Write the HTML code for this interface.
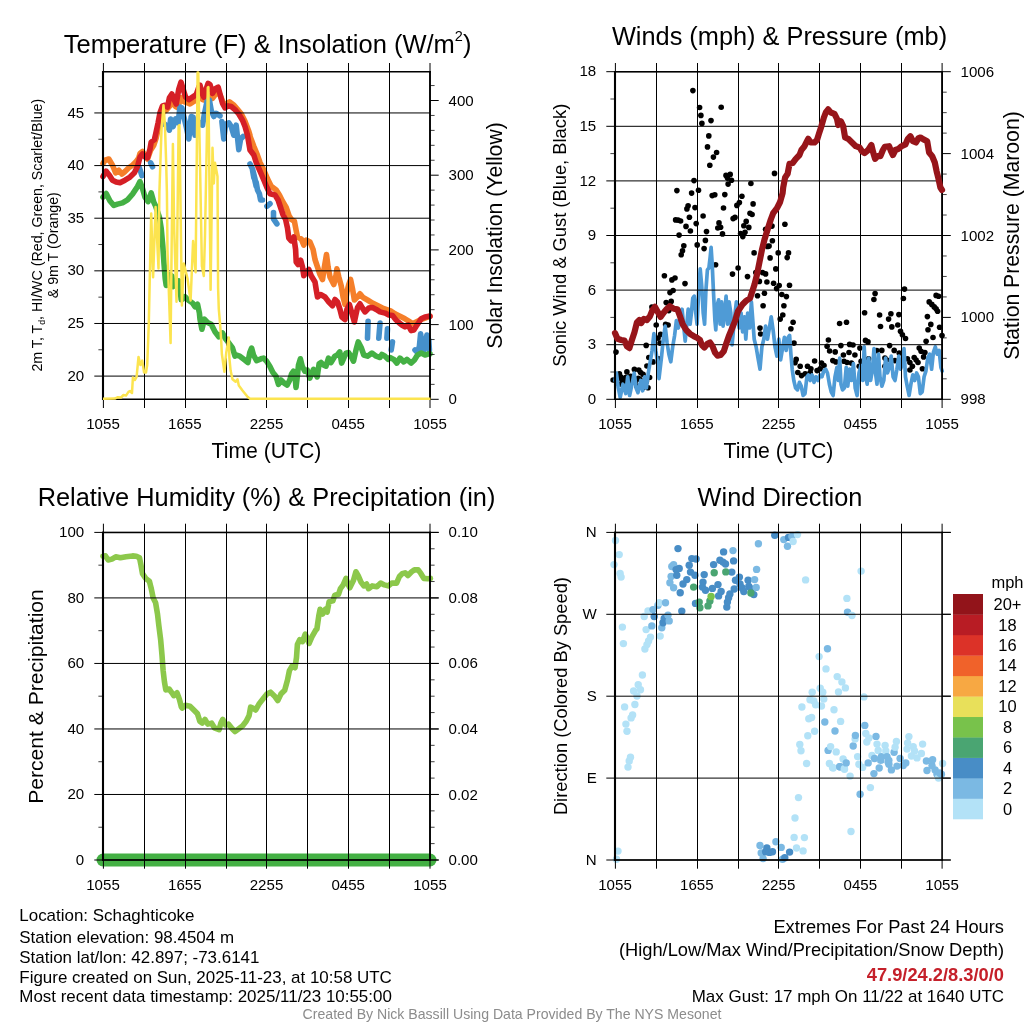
<!DOCTYPE html>
<html><head><meta charset="utf-8"><title>Meteogram</title>
<style>html,body{margin:0;padding:0;background:#fff;overflow:hidden;}svg{display:block;will-change:transform;}text{font-family:"Liberation Sans",sans-serif;}</style></head><body>
<svg width="1024" height="1024" viewBox="0 0 1024 1024" style='font-family:"Liberation Sans",sans-serif;'>
<rect width="1024" height="1024" fill="#fff"/>
<polyline points="103.0,163.4 105.0,160.2 108.8,159.0 112.5,165.2 115.6,172.8 118.8,170.2 121.9,174.0 125.0,171.5 128.8,167.8 132.5,165.2 136.2,161.5 138.8,157.8 140.0,153.4 142.5,151.5 145.6,156.5 147.5,159.0 150.6,150.2 153.8,145.2 156.2,137.8 158.1,129.0 160.6,119.0 163.1,112.1 166.2,110.2 169.4,106.5 172.5,102.8 175.6,106.5 178.1,107.8 180.0,99.0 181.2,97.8 183.8,101.5 187.5,102.8 190.0,104.0 193.8,101.5 197.5,98.4 200.0,95.2 202.5,99.6 205.0,100.2 208.8,95.2 212.5,98.4 216.2,93.4 218.8,92.8 221.2,97.8 223.1,102.8 225.0,104.6 229.4,101.9 233.8,105.0 237.5,109.4 241.2,113.8 245.0,121.2 248.8,131.2 250.0,135.2 250.0,136.2 253.8,146.2 256.9,153.8 260.0,162.5 263.8,170.0 267.5,178.8 271.2,186.2 276.2,190.0 279.4,195.0 282.5,201.2 286.2,207.5 288.8,215.0 291.2,219.4 294.4,221.2 296.2,230.8 297.5,237.0 301.2,238.9 303.8,245.1 306.2,240.1 310.0,242.0 313.1,249.5 315.0,259.5 317.5,267.0 320.0,274.5 322.5,279.5 324.4,267.0 326.5,254.5 328.1,267.0 330.0,277.0 333.8,284.5 336.2,274.5 336.9,268.9 338.8,277.0 341.2,285.8 343.1,297.0 345.0,304.5 346.9,292.0 348.8,284.5 350.6,279.5 352.5,288.8 354.4,300.0 356.9,297.5 360.0,293.8 363.1,297.5 367.5,300.0 372.5,303.1 377.5,305.6 382.5,308.1 386.2,309.4 391.2,311.2 395.0,313.8 400.0,316.2 405.0,318.8 410.0,321.9 412.5,323.8 416.2,321.9 420.0,320.0 425.0,318.1 430.0,316.2" fill="none" stroke="#f57f2a" stroke-width="5.6" stroke-linejoin="round" stroke-linecap="round"/>
<polyline points="139.4,167.8 140.6,171.5 141.9,175.6" fill="none" stroke="#4590cb" stroke-width="5.6" stroke-linejoin="round" stroke-linecap="round"/>
<polyline points="150.6,162.8 152.5,166.8" fill="none" stroke="#4590cb" stroke-width="5.6" stroke-linejoin="round" stroke-linecap="round"/>
<polyline points="162.8,122.8 164.4,124.0 167.5,126.5 169.4,130.2 170.6,119.0 173.1,126.5 175.6,119.0 178.1,122.8 180.0,107.1 181.9,107.8 183.8,116.5 186.2,126.5 188.8,139.0 191.2,116.5 193.1,117.1 195.0,135.2 196.9,120.2 200.0,124.0 202.5,125.2 204.4,114.0 207.5,99.0 209.4,100.2 211.2,110.2 213.8,116.5 216.2,113.4 220.0,115.9" fill="none" stroke="#4590cb" stroke-width="5.6" stroke-linejoin="round" stroke-linecap="round"/>
<polyline points="221.9,121.5 223.8,139.0 225.6,124.0 228.8,122.8 231.2,126.5 233.8,135.2 236.2,125.2 238.8,149.6 240.6,139.0 243.1,136.5" fill="none" stroke="#4590cb" stroke-width="5.6" stroke-linejoin="round" stroke-linecap="round"/>
<polyline points="250.0,164.0 252.5,169.0 255.0,179.0 256.2,186.5 252.5,170.0 253.8,177.5 256.2,182.5 257.5,190.0 259.4,193.8 260.6,200.0 262.5,200.0" fill="none" stroke="#4590cb" stroke-width="5.6" stroke-linejoin="round" stroke-linecap="round"/>
<polyline points="266.9,206.2 270.0,203.8" fill="none" stroke="#4590cb" stroke-width="5.6" stroke-linejoin="round" stroke-linecap="round"/>
<polyline points="273.5,212.6 273.5,218.9 276.9,223.9" fill="none" stroke="#4590cb" stroke-width="5.6" stroke-linejoin="round" stroke-linecap="round"/>
<polyline points="368.1,321.2 367.5,338.1" fill="none" stroke="#4590cb" stroke-width="5.6" stroke-linejoin="round" stroke-linecap="round"/>
<polyline points="380.0,323.1 378.8,338.1" fill="none" stroke="#4590cb" stroke-width="5.6" stroke-linejoin="round" stroke-linecap="round"/>
<polyline points="387.5,328.8 386.9,338.1" fill="none" stroke="#4590cb" stroke-width="5.6" stroke-linejoin="round" stroke-linecap="round"/>
<polyline points="392.5,341.9 391.2,350.0" fill="none" stroke="#4590cb" stroke-width="5.6" stroke-linejoin="round" stroke-linecap="round"/>
<polyline points="415.0,350.0 417.5,352.5 419.4,346.2 420.6,333.8 423.1,352.5 425.0,346.2 426.9,335.0 428.8,340.0 429.4,350.0" fill="none" stroke="#4590cb" stroke-width="5.6" stroke-linejoin="round" stroke-linecap="round"/>
<polyline points="103.0,197.2 106.2,193.5 110.0,201.0 113.8,205.4 117.5,204.1 122.5,202.9 127.5,199.8 132.5,194.1 137.5,186.6 140.0,181.6 142.5,188.5 145.0,197.2 148.1,201.6 151.2,192.9 153.8,202.2 155.6,206.0 159.4,217.2 161.2,228.5 162.8,246.0 164.0,263.5 165.2,278.5 166.2,285.4 168.1,283.5 170.0,274.8 171.9,276.0 173.1,286.6 176.2,283.5 178.8,281.0 180.0,288.5 181.2,299.8 182.5,299.2 185.0,296.8 188.8,300.5 192.5,303.0 195.0,306.8 197.5,304.2 199.4,313.0 200.0,319.2 201.9,329.2 204.4,319.2 207.5,322.4 211.2,324.2 215.0,331.8 218.8,336.8 222.5,333.0 225.0,338.0 228.8,343.0 232.5,348.0 235.0,356.1 236.0,355.0 239.8,356.2 244.8,360.0 247.9,362.5 249.8,352.5 251.6,348.1 253.5,355.0 256.6,360.6 261.0,358.8 263.5,358.1 266.6,361.2 269.8,366.2 272.9,372.5 276.0,376.2 278.5,384.4 281.0,380.0 284.1,383.1 287.2,385.0 289.8,380.0 291.6,373.8 293.5,371.2 295.4,380.0 296.0,387.5 297.2,377.5 298.5,365.0 300.4,358.8 302.2,366.2 304.8,371.2 307.2,370.0 309.8,378.1 311.6,373.8 313.5,369.4 317.2,376.9 319.1,363.8 321.0,362.5 323.5,365.0 326.0,366.2 328.5,358.1 331.0,362.5 334.8,356.2 337.2,355.0 339.8,351.9 341.6,363.1 343.5,358.8 346.0,353.1 348.5,352.5 351.0,356.2 353.5,361.2 356.0,350.0 358.2,341.9 361.2,347.5 363.8,355.0 367.5,356.2 371.9,353.1 376.2,356.2 380.0,357.5 381.9,354.4 385.0,356.2 388.1,359.4 390.0,357.5 393.8,359.4 396.9,363.1 400.0,358.1 403.8,361.9 406.9,359.4 411.2,363.1 414.4,360.0 417.5,355.0 421.2,353.1 425.0,355.0 428.8,353.8 430.0,353.8" fill="none" stroke="#44b044" stroke-width="5.6" stroke-linejoin="round" stroke-linecap="round"/>
<polyline points="103.0,176.5 106.2,171.2 109.4,175.2 112.5,180.2 116.2,182.1 120.0,182.8 125.0,180.2 130.0,177.1 134.4,172.8 137.5,166.5 140.0,157.1 142.5,154.0 145.0,157.1 147.5,157.8 150.0,149.0 151.2,142.1 154.4,139.6 156.2,131.5 158.1,122.8 160.0,112.8 162.5,105.9 165.0,105.2 167.5,107.1 169.4,97.8 171.9,94.0 174.4,100.2 176.2,104.0 178.8,89.0 181.0,82.1 183.1,89.0 185.6,97.1 188.8,99.6 192.5,97.1 196.2,94.6 198.8,87.1 200.0,85.2 201.9,92.8 203.8,97.1 206.2,89.0 208.1,83.4 210.0,84.6 212.5,93.4 215.0,89.0 218.1,87.1 220.0,94.0 222.5,103.4 225.0,107.8 228.1,105.9 231.2,106.5 235.0,109.6 238.8,114.0 242.5,120.2 245.0,126.5 247.5,135.2 250.0,150.0 253.8,155.0 256.2,162.5 260.0,171.2 263.8,180.0 266.9,187.5 270.0,193.8 275.0,195.0 278.1,200.0 280.6,207.5 283.1,215.0 285.6,219.5 287.5,228.2 288.8,238.2 291.2,240.8 293.8,237.0 295.6,249.5 296.2,262.0 298.1,264.5 300.6,260.1 302.5,267.0 303.8,275.8 306.2,272.0 308.8,269.5 311.2,275.8 315.0,282.0 316.2,289.5 317.5,297.0 320.6,294.5 325.0,297.0 328.8,302.0 332.5,305.8 335.0,299.5 337.5,302.0 340.0,309.5 341.9,317.0 345.0,319.5 346.9,309.5 349.4,304.5 351.9,313.2 354.4,322.0 355.6,316.2 357.5,307.5 360.0,303.8 362.5,308.1 365.0,311.9 368.8,308.1 372.5,307.5 376.2,309.4 380.0,311.9 385.0,313.1 388.8,315.0 392.5,315.6 395.6,319.4 398.8,322.5 401.9,325.0 405.0,326.9 408.1,325.0 411.2,330.6 413.8,330.0 416.2,326.2 418.8,322.5 421.2,318.8 425.0,316.9 428.8,316.2 430.0,316.2" fill="none" stroke="#d51f26" stroke-width="5.6" stroke-linejoin="round" stroke-linecap="round"/>
<line x1="103.40" y1="63.00" x2="103.40" y2="408.00" stroke="#000" stroke-width="1.0" stroke-linecap="butt"/>
<line x1="144.50" y1="63.00" x2="144.50" y2="408.00" stroke="#000" stroke-width="1.0" stroke-linecap="butt"/>
<line x1="185.50" y1="63.00" x2="185.50" y2="408.00" stroke="#000" stroke-width="1.0" stroke-linecap="butt"/>
<line x1="226.50" y1="63.00" x2="226.50" y2="408.00" stroke="#000" stroke-width="1.0" stroke-linecap="butt"/>
<line x1="266.50" y1="63.00" x2="266.50" y2="408.00" stroke="#000" stroke-width="1.0" stroke-linecap="butt"/>
<line x1="307.50" y1="63.00" x2="307.50" y2="408.00" stroke="#000" stroke-width="1.0" stroke-linecap="butt"/>
<line x1="348.50" y1="63.00" x2="348.50" y2="408.00" stroke="#000" stroke-width="1.0" stroke-linecap="butt"/>
<line x1="389.50" y1="63.00" x2="389.50" y2="408.00" stroke="#000" stroke-width="1.0" stroke-linecap="butt"/>
<line x1="430.00" y1="63.00" x2="430.00" y2="408.00" stroke="#000" stroke-width="1.0" stroke-linecap="butt"/>
<text transform="translate(103.0 429.2) scale(1.04 1)" font-size="14.5" text-anchor="middle" fill="#000" font-weight="normal">1055</text>
<text transform="translate(184.8 429.2) scale(1.04 1)" font-size="14.5" text-anchor="middle" fill="#000" font-weight="normal">1655</text>
<text transform="translate(266.5 429.2) scale(1.04 1)" font-size="14.5" text-anchor="middle" fill="#000" font-weight="normal">2255</text>
<text transform="translate(348.2 429.2) scale(1.04 1)" font-size="14.5" text-anchor="middle" fill="#000" font-weight="normal">0455</text>
<text transform="translate(430.0 429.2) scale(1.04 1)" font-size="14.5" text-anchor="middle" fill="#000" font-weight="normal">1055</text>
<line x1="98.40" y1="349.78" x2="103.00" y2="349.78" stroke="#000" stroke-width="0.75" stroke-linecap="butt"/>
<line x1="98.40" y1="297.15" x2="103.00" y2="297.15" stroke="#000" stroke-width="0.75" stroke-linecap="butt"/>
<line x1="98.40" y1="244.53" x2="103.00" y2="244.53" stroke="#000" stroke-width="0.75" stroke-linecap="butt"/>
<line x1="98.40" y1="191.90" x2="103.00" y2="191.90" stroke="#000" stroke-width="0.75" stroke-linecap="butt"/>
<line x1="98.40" y1="139.26" x2="103.00" y2="139.26" stroke="#000" stroke-width="0.75" stroke-linecap="butt"/>
<line x1="98.40" y1="86.63" x2="103.00" y2="86.63" stroke="#000" stroke-width="0.75" stroke-linecap="butt"/>
<line x1="94.30" y1="376.10" x2="430.00" y2="376.10" stroke="#000" stroke-width="1.0" stroke-linecap="butt"/>
<text transform="translate(84.2 380.7) scale(1.04 1)" font-size="14.5" text-anchor="end" fill="#000" font-weight="normal">20</text>
<line x1="94.30" y1="323.47" x2="430.00" y2="323.47" stroke="#000" stroke-width="1.0" stroke-linecap="butt"/>
<text transform="translate(84.2 328.1) scale(1.04 1)" font-size="14.5" text-anchor="end" fill="#000" font-weight="normal">25</text>
<line x1="94.30" y1="270.84" x2="430.00" y2="270.84" stroke="#000" stroke-width="1.0" stroke-linecap="butt"/>
<text transform="translate(84.2 275.4) scale(1.04 1)" font-size="14.5" text-anchor="end" fill="#000" font-weight="normal">30</text>
<line x1="94.30" y1="218.21" x2="430.00" y2="218.21" stroke="#000" stroke-width="1.0" stroke-linecap="butt"/>
<text transform="translate(84.2 222.8) scale(1.04 1)" font-size="14.5" text-anchor="end" fill="#000" font-weight="normal">35</text>
<line x1="94.30" y1="165.58" x2="430.00" y2="165.58" stroke="#000" stroke-width="1.0" stroke-linecap="butt"/>
<text transform="translate(84.2 170.2) scale(1.04 1)" font-size="14.5" text-anchor="end" fill="#000" font-weight="normal">40</text>
<line x1="94.30" y1="112.95" x2="430.00" y2="112.95" stroke="#000" stroke-width="1.0" stroke-linecap="butt"/>
<text transform="translate(84.2 117.5) scale(1.04 1)" font-size="14.5" text-anchor="end" fill="#000" font-weight="normal">45</text>
<line x1="430.00" y1="384.36" x2="434.60" y2="384.36" stroke="#000" stroke-width="0.75" stroke-linecap="butt"/>
<line x1="430.00" y1="369.42" x2="434.60" y2="369.42" stroke="#000" stroke-width="0.75" stroke-linecap="butt"/>
<line x1="430.00" y1="354.48" x2="434.60" y2="354.48" stroke="#000" stroke-width="0.75" stroke-linecap="butt"/>
<line x1="430.00" y1="339.54" x2="434.60" y2="339.54" stroke="#000" stroke-width="0.75" stroke-linecap="butt"/>
<line x1="430.00" y1="309.66" x2="434.60" y2="309.66" stroke="#000" stroke-width="0.75" stroke-linecap="butt"/>
<line x1="430.00" y1="294.72" x2="434.60" y2="294.72" stroke="#000" stroke-width="0.75" stroke-linecap="butt"/>
<line x1="430.00" y1="279.78" x2="434.60" y2="279.78" stroke="#000" stroke-width="0.75" stroke-linecap="butt"/>
<line x1="430.00" y1="264.84" x2="434.60" y2="264.84" stroke="#000" stroke-width="0.75" stroke-linecap="butt"/>
<line x1="430.00" y1="234.96" x2="434.60" y2="234.96" stroke="#000" stroke-width="0.75" stroke-linecap="butt"/>
<line x1="430.00" y1="220.02" x2="434.60" y2="220.02" stroke="#000" stroke-width="0.75" stroke-linecap="butt"/>
<line x1="430.00" y1="205.08" x2="434.60" y2="205.08" stroke="#000" stroke-width="0.75" stroke-linecap="butt"/>
<line x1="430.00" y1="190.14" x2="434.60" y2="190.14" stroke="#000" stroke-width="0.75" stroke-linecap="butt"/>
<line x1="430.00" y1="160.26" x2="434.60" y2="160.26" stroke="#000" stroke-width="0.75" stroke-linecap="butt"/>
<line x1="430.00" y1="145.32" x2="434.60" y2="145.32" stroke="#000" stroke-width="0.75" stroke-linecap="butt"/>
<line x1="430.00" y1="130.38" x2="434.60" y2="130.38" stroke="#000" stroke-width="0.75" stroke-linecap="butt"/>
<line x1="430.00" y1="115.44" x2="434.60" y2="115.44" stroke="#000" stroke-width="0.75" stroke-linecap="butt"/>
<line x1="430.00" y1="85.56" x2="434.60" y2="85.56" stroke="#000" stroke-width="0.75" stroke-linecap="butt"/>
<line x1="430.00" y1="399.30" x2="438.70" y2="399.30" stroke="#000" stroke-width="1.0" stroke-linecap="butt"/>
<text transform="translate(448.5 404.3) scale(1.04 1)" font-size="14.5" text-anchor="start" fill="#000" font-weight="normal">0</text>
<line x1="430.00" y1="324.60" x2="438.70" y2="324.60" stroke="#000" stroke-width="1.0" stroke-linecap="butt"/>
<text transform="translate(448.5 329.6) scale(1.04 1)" font-size="14.5" text-anchor="start" fill="#000" font-weight="normal">100</text>
<line x1="430.00" y1="249.90" x2="438.70" y2="249.90" stroke="#000" stroke-width="1.0" stroke-linecap="butt"/>
<text transform="translate(448.5 254.9) scale(1.04 1)" font-size="14.5" text-anchor="start" fill="#000" font-weight="normal">200</text>
<line x1="430.00" y1="175.20" x2="438.70" y2="175.20" stroke="#000" stroke-width="1.0" stroke-linecap="butt"/>
<text transform="translate(448.5 180.2) scale(1.04 1)" font-size="14.5" text-anchor="start" fill="#000" font-weight="normal">300</text>
<line x1="430.00" y1="100.50" x2="438.70" y2="100.50" stroke="#000" stroke-width="1.0" stroke-linecap="butt"/>
<text transform="translate(448.5 105.5) scale(1.04 1)" font-size="14.5" text-anchor="start" fill="#000" font-weight="normal">400</text>
<line x1="103.00" y1="70.95" x2="103.00" y2="400.00" stroke="#000" stroke-width="2.1" stroke-linecap="butt"/>
<line x1="102.00" y1="71.70" x2="430.90" y2="71.70" stroke="#000" stroke-width="1.5" stroke-linecap="butt"/>
<line x1="430.00" y1="70.95" x2="430.00" y2="400.00" stroke="#000" stroke-width="1.8" stroke-linecap="butt"/>
<line x1="102.00" y1="399.30" x2="430.90" y2="399.30" stroke="#000" stroke-width="1.4" stroke-linecap="butt"/>
<polyline points="103.0,398.7 114.8,398.6 117.9,397.2 121.0,397.5 123.5,395.0 126.0,395.6 128.5,391.9 130.0,391.0 132.0,393.0 132.9,377.5 134.8,380.0 136.6,376.9 138.5,356.9 140.4,365.0 142.2,360.6 144.1,372.5 146.0,372.5 147.2,365.0 148.2,340.0 148.8,323.0 151.2,213.5 153.1,277.2 155.6,207.0 158.5,268.5 159.4,192.0 161.5,130.0 163.5,105.2 165.0,126.5 166.2,164.0 166.9,192.0 167.5,251.0 168.8,290.0 170.6,343.0 171.6,250.0 172.9,144.0 174.2,230.0 176.5,301.8 178.6,126.0 179.4,125.2 181.9,305.5 183.8,263.5 187.5,278.5 190.6,300.5 193.1,241.0 195.6,272.2 197.6,72.5 198.3,72.5 201.9,266.0 203.8,276.0 205.0,236.0 207.8,87.5 208.4,87.1 210.6,289.8 212.5,147.8 213.8,183.5 215.0,162.8 217.5,176.5 218.1,288.0 218.8,309.2 220.0,323.0 221.2,340.5 221.9,354.2 224.4,371.8 226.2,353.0 228.8,337.4 229.4,358.0 230.6,370.5 232.5,379.2 235.6,381.8 237.5,379.2 238.8,385.5 242.5,390.5 247.5,396.8 250.0,398.7 430.5,398.7" fill="none" stroke="#fce44f" stroke-width="2.5" stroke-linejoin="round" stroke-linecap="butt"/>
<text x="267.6" y="53" font-size="25.5" text-anchor="middle" fill="#000" font-weight="normal">Temperature (F) &amp; Insolation (W/m<tspan dy="-12" font-size="14.5">2</tspan><tspan dy="12">)</tspan></text>
<text x="266.5" y="457.5" font-size="21.2" text-anchor="middle" fill="#000" font-weight="normal">Time (UTC)</text>
<text transform="translate(501.7 235.5) rotate(-90)" font-size="21.2" text-anchor="middle" fill="#000" font-weight="normal">Solar Insolation (Yellow)</text>
<text transform="translate(42 235.2) rotate(-90) scale(0.9615 1)" font-size="14.8" text-anchor="middle" fill="#000" font-weight="normal">2m T, T<tspan dy="3" font-size="9">d</tspan><tspan dy="-3">, HI/WC (Red, Green, Scarlet/Blue)</tspan></text>
<text transform="translate(57.5 245.2) rotate(-90) scale(0.9615 1)" font-size="14.8" text-anchor="middle" fill="#000" font-weight="normal">&amp; 9m T (Orange)</text>
<g fill="#000">
<circle cx="668.8" cy="310.6" r="2.8"/>
<circle cx="656.2" cy="325.0" r="2.8"/>
<circle cx="665.6" cy="324.4" r="2.8"/>
<circle cx="668.1" cy="325.0" r="2.8"/>
<circle cx="658.1" cy="338.1" r="2.8"/>
<circle cx="660.6" cy="334.4" r="2.8"/>
<circle cx="646.2" cy="345.4" r="2.8"/>
<circle cx="660.0" cy="343.1" r="2.8"/>
<circle cx="616.0" cy="352.1" r="2.8"/>
<circle cx="648.8" cy="357.5" r="2.8"/>
<circle cx="658.8" cy="358.8" r="2.8"/>
<circle cx="646.9" cy="366.0" r="2.8"/>
<circle cx="653.1" cy="361.9" r="2.8"/>
<circle cx="626.9" cy="371.9" r="2.8"/>
<circle cx="634.4" cy="369.4" r="2.8"/>
<circle cx="638.8" cy="370.0" r="2.8"/>
<circle cx="640.6" cy="372.5" r="2.8"/>
<circle cx="643.1" cy="374.4" r="2.8"/>
<circle cx="619.4" cy="373.8" r="2.8"/>
<circle cx="620.6" cy="376.9" r="2.8"/>
<circle cx="622.5" cy="380.6" r="2.8"/>
<circle cx="630.6" cy="376.2" r="2.8"/>
<circle cx="613.1" cy="380.0" r="2.8"/>
<circle cx="692.9" cy="90.6" r="2.8"/>
<circle cx="699.6" cy="107.5" r="2.8"/>
<circle cx="721.2" cy="107.2" r="2.8"/>
<circle cx="700.9" cy="115.4" r="2.8"/>
<circle cx="711.0" cy="120.6" r="2.8"/>
<circle cx="701.9" cy="123.4" r="2.8"/>
<circle cx="708.8" cy="135.9" r="2.8"/>
<circle cx="707.5" cy="146.9" r="2.8"/>
<circle cx="716.6" cy="152.5" r="2.8"/>
<circle cx="713.4" cy="157.1" r="2.8"/>
<circle cx="709.8" cy="165.2" r="2.8"/>
<circle cx="726.0" cy="175.4" r="2.8"/>
<circle cx="730.2" cy="174.4" r="2.8"/>
<circle cx="727.5" cy="178.1" r="2.8"/>
<circle cx="731.5" cy="180.2" r="2.8"/>
<circle cx="728.1" cy="184.1" r="2.8"/>
<circle cx="694.0" cy="180.6" r="2.8"/>
<circle cx="750.9" cy="183.5" r="2.8"/>
<circle cx="676.9" cy="190.6" r="2.8"/>
<circle cx="691.6" cy="193.1" r="2.8"/>
<circle cx="698.5" cy="190.2" r="2.8"/>
<circle cx="712.2" cy="195.6" r="2.8"/>
<circle cx="714.8" cy="194.8" r="2.8"/>
<circle cx="724.8" cy="194.6" r="2.8"/>
<circle cx="741.9" cy="196.2" r="2.8"/>
<circle cx="688.1" cy="205.8" r="2.8"/>
<circle cx="686.9" cy="208.9" r="2.8"/>
<circle cx="695.0" cy="207.6" r="2.8"/>
<circle cx="723.5" cy="208.0" r="2.8"/>
<circle cx="739.4" cy="202.6" r="2.8"/>
<circle cx="736.9" cy="205.4" r="2.8"/>
<circle cx="753.1" cy="203.9" r="2.8"/>
<circle cx="703.1" cy="216.0" r="2.8"/>
<circle cx="689.4" cy="217.2" r="2.8"/>
<circle cx="735.0" cy="217.4" r="2.8"/>
<circle cx="733.1" cy="218.6" r="2.8"/>
<circle cx="750.0" cy="213.2" r="2.8"/>
<circle cx="752.1" cy="214.5" r="2.8"/>
<circle cx="675.6" cy="219.9" r="2.8"/>
<circle cx="678.1" cy="220.1" r="2.8"/>
<circle cx="680.6" cy="221.0" r="2.8"/>
<circle cx="696.2" cy="223.6" r="2.8"/>
<circle cx="719.0" cy="222.9" r="2.8"/>
<circle cx="717.8" cy="228.0" r="2.8"/>
<circle cx="720.6" cy="227.2" r="2.8"/>
<circle cx="746.2" cy="221.4" r="2.8"/>
<circle cx="743.8" cy="225.8" r="2.8"/>
<circle cx="748.8" cy="227.4" r="2.8"/>
<circle cx="686.0" cy="226.4" r="2.8"/>
<circle cx="690.4" cy="231.0" r="2.8"/>
<circle cx="706.5" cy="231.6" r="2.8"/>
<circle cx="722.5" cy="233.9" r="2.8"/>
<circle cx="745.0" cy="232.2" r="2.8"/>
<circle cx="740.6" cy="233.5" r="2.8"/>
<circle cx="742.8" cy="236.6" r="2.8"/>
<circle cx="765.6" cy="229.2" r="2.8"/>
<circle cx="679.1" cy="235.1" r="2.8"/>
<circle cx="705.4" cy="240.4" r="2.8"/>
<circle cx="697.2" cy="244.9" r="2.8"/>
<circle cx="683.8" cy="245.8" r="2.8"/>
<circle cx="704.1" cy="248.6" r="2.8"/>
<circle cx="682.5" cy="250.8" r="2.8"/>
<circle cx="681.2" cy="254.8" r="2.8"/>
<circle cx="754.1" cy="252.9" r="2.8"/>
<circle cx="767.5" cy="246.4" r="2.8"/>
<circle cx="715.6" cy="264.8" r="2.8"/>
<circle cx="738.1" cy="268.0" r="2.8"/>
<circle cx="732.5" cy="274.1" r="2.8"/>
<circle cx="747.5" cy="276.6" r="2.8"/>
<circle cx="664.4" cy="275.8" r="2.8"/>
<circle cx="671.9" cy="279.9" r="2.8"/>
<circle cx="675.0" cy="278.0" r="2.8"/>
<circle cx="685.0" cy="283.6" r="2.8"/>
<circle cx="762.5" cy="272.6" r="2.8"/>
<circle cx="765.6" cy="273.9" r="2.8"/>
<circle cx="759.4" cy="281.4" r="2.8"/>
<circle cx="766.9" cy="282.0" r="2.8"/>
<circle cx="673.1" cy="290.5" r="2.8"/>
<circle cx="670.0" cy="292.6" r="2.8"/>
<circle cx="757.5" cy="295.8" r="2.8"/>
<circle cx="764.4" cy="293.2" r="2.8"/>
<circle cx="666.2" cy="302.6" r="2.8"/>
<circle cx="671.2" cy="301.4" r="2.8"/>
<circle cx="763.1" cy="305.8" r="2.8"/>
<circle cx="651.9" cy="307.0" r="2.8"/>
<circle cx="784.9" cy="224.2" r="2.8"/>
<circle cx="772.0" cy="226.1" r="2.8"/>
<circle cx="772.4" cy="240.8" r="2.8"/>
<circle cx="769.1" cy="246.1" r="2.8"/>
<circle cx="778.2" cy="252.9" r="2.8"/>
<circle cx="788.5" cy="252.9" r="2.8"/>
<circle cx="787.2" cy="257.6" r="2.8"/>
<circle cx="770.1" cy="257.9" r="2.8"/>
<circle cx="775.8" cy="268.9" r="2.8"/>
<circle cx="773.6" cy="283.2" r="2.8"/>
<circle cx="779.2" cy="285.5" r="2.8"/>
<circle cx="776.6" cy="288.6" r="2.8"/>
<circle cx="789.5" cy="285.2" r="2.8"/>
<circle cx="781.8" cy="294.5" r="2.8"/>
<circle cx="786.4" cy="296.6" r="2.8"/>
<circle cx="783.9" cy="305.8" r="2.8"/>
<circle cx="875.1" cy="293.6" r="2.8"/>
<circle cx="873.9" cy="299.5" r="2.8"/>
<circle cx="755.8" cy="272.6" r="2.8"/>
<circle cx="774.5" cy="173.4" r="2.8"/>
<circle cx="782.8" cy="315.0" r="2.8"/>
<circle cx="780.2" cy="319.1" r="2.8"/>
<circle cx="793.1" cy="322.2" r="2.8"/>
<circle cx="790.9" cy="328.8" r="2.8"/>
<circle cx="760.0" cy="328.1" r="2.8"/>
<circle cx="760.6" cy="334.0" r="2.8"/>
<circle cx="794.0" cy="343.1" r="2.8"/>
<circle cx="796.2" cy="359.4" r="2.8"/>
<circle cx="795.0" cy="362.8" r="2.8"/>
<circle cx="800.2" cy="366.2" r="2.8"/>
<circle cx="807.5" cy="366.2" r="2.8"/>
<circle cx="810.9" cy="368.8" r="2.8"/>
<circle cx="814.6" cy="361.0" r="2.8"/>
<circle cx="797.8" cy="372.5" r="2.8"/>
<circle cx="801.5" cy="375.6" r="2.8"/>
<circle cx="805.2" cy="373.8" r="2.8"/>
<circle cx="810.2" cy="372.5" r="2.8"/>
<circle cx="817.1" cy="370.6" r="2.8"/>
<circle cx="821.5" cy="363.1" r="2.8"/>
<circle cx="824.0" cy="365.6" r="2.8"/>
<circle cx="820.2" cy="368.8" r="2.8"/>
<circle cx="828.4" cy="340.0" r="2.8"/>
<circle cx="827.1" cy="346.2" r="2.8"/>
<circle cx="829.6" cy="351.0" r="2.8"/>
<circle cx="835.2" cy="351.9" r="2.8"/>
<circle cx="840.9" cy="345.6" r="2.8"/>
<circle cx="839.6" cy="323.5" r="2.8"/>
<circle cx="846.5" cy="322.2" r="2.8"/>
<circle cx="849.6" cy="344.4" r="2.8"/>
<circle cx="849.0" cy="352.5" r="2.8"/>
<circle cx="843.4" cy="355.0" r="2.8"/>
<circle cx="832.8" cy="360.6" r="2.8"/>
<circle cx="835.9" cy="361.9" r="2.8"/>
<circle cx="844.0" cy="361.2" r="2.8"/>
<circle cx="847.1" cy="362.5" r="2.8"/>
<circle cx="851.5" cy="363.1" r="2.8"/>
<circle cx="853.0" cy="345.0" r="2.8"/>
<circle cx="854.9" cy="355.0" r="2.8"/>
<circle cx="859.9" cy="348.1" r="2.8"/>
<circle cx="859.2" cy="366.2" r="2.8"/>
<circle cx="864.6" cy="312.8" r="2.8"/>
<circle cx="879.6" cy="315.0" r="2.8"/>
<circle cx="890.9" cy="313.8" r="2.8"/>
<circle cx="898.9" cy="314.6" r="2.8"/>
<circle cx="888.6" cy="319.1" r="2.8"/>
<circle cx="880.5" cy="326.5" r="2.8"/>
<circle cx="891.8" cy="326.9" r="2.8"/>
<circle cx="897.8" cy="325.0" r="2.8"/>
<circle cx="865.5" cy="340.4" r="2.8"/>
<circle cx="868.0" cy="341.9" r="2.8"/>
<circle cx="889.6" cy="345.6" r="2.8"/>
<circle cx="881.8" cy="350.4" r="2.8"/>
<circle cx="894.2" cy="350.4" r="2.8"/>
<circle cx="899.2" cy="353.1" r="2.8"/>
<circle cx="900.5" cy="331.2" r="2.8"/>
<circle cx="902.4" cy="334.8" r="2.8"/>
<circle cx="905.5" cy="338.5" r="2.8"/>
<circle cx="904.5" cy="289.1" r="2.8"/>
<circle cx="903.4" cy="298.5" r="2.8"/>
<circle cx="884.9" cy="358.1" r="2.8"/>
<circle cx="886.8" cy="360.0" r="2.8"/>
<circle cx="884.9" cy="366.2" r="2.8"/>
<circle cx="894.9" cy="360.6" r="2.8"/>
<circle cx="876.8" cy="350.6" r="2.8"/>
<circle cx="861.1" cy="361.2" r="2.8"/>
<circle cx="868.6" cy="358.8" r="2.8"/>
<circle cx="907.4" cy="358.8" r="2.8"/>
<circle cx="909.9" cy="362.5" r="2.8"/>
<circle cx="912.4" cy="366.2" r="2.8"/>
<circle cx="909.9" cy="370.0" r="2.8"/>
<circle cx="914.2" cy="357.5" r="2.8"/>
<circle cx="916.1" cy="360.0" r="2.8"/>
<circle cx="918.0" cy="362.5" r="2.8"/>
<circle cx="922.4" cy="368.8" r="2.8"/>
<circle cx="919.2" cy="348.1" r="2.8"/>
<circle cx="921.1" cy="351.2" r="2.8"/>
<circle cx="924.9" cy="352.5" r="2.8"/>
<circle cx="923.6" cy="356.9" r="2.8"/>
<circle cx="926.1" cy="341.2" r="2.8"/>
<circle cx="933.0" cy="337.5" r="2.8"/>
<circle cx="928.0" cy="329.8" r="2.8"/>
<circle cx="930.8" cy="324.4" r="2.8"/>
<circle cx="927.4" cy="316.6" r="2.8"/>
<circle cx="939.6" cy="327.2" r="2.8"/>
<circle cx="942.0" cy="335.6" r="2.8"/>
<circle cx="929.2" cy="301.9" r="2.8"/>
<circle cx="931.8" cy="304.4" r="2.8"/>
<circle cx="934.2" cy="306.9" r="2.8"/>
<circle cx="936.1" cy="308.8" r="2.8"/>
<circle cx="937.6" cy="311.2" r="2.8"/>
<circle cx="936.1" cy="295.4" r="2.8"/>
<circle cx="938.6" cy="296.2" r="2.8"/>
<circle cx="616.0" cy="380.6" r="2.8"/>
<circle cx="617.6" cy="378.7" r="2.8"/>
<circle cx="619.2" cy="384.2" r="2.8"/>
<circle cx="620.8" cy="377.8" r="2.8"/>
<circle cx="622.4" cy="382.9" r="2.8"/>
<circle cx="624.0" cy="381.0" r="2.8"/>
<circle cx="625.6" cy="377.6" r="2.8"/>
<circle cx="627.2" cy="382.6" r="2.8"/>
<circle cx="628.8" cy="377.4" r="2.8"/>
<circle cx="630.4" cy="381.8" r="2.8"/>
<circle cx="632.0" cy="377.8" r="2.8"/>
<circle cx="633.6" cy="378.0" r="2.8"/>
<circle cx="635.2" cy="381.7" r="2.8"/>
<circle cx="636.8" cy="386.1" r="2.8"/>
<circle cx="638.4" cy="378.4" r="2.8"/>
<circle cx="640.0" cy="379.5" r="2.8"/>
<circle cx="641.6" cy="383.9" r="2.8"/>
<circle cx="643.2" cy="387.4" r="2.8"/>
<circle cx="644.8" cy="383.3" r="2.8"/>
<circle cx="646.4" cy="381.4" r="2.8"/>
<circle cx="648.0" cy="387.7" r="2.8"/>
<circle cx="649.6" cy="377.5" r="2.8"/>
</g>
<polyline points="614.9,380.5 616.4,373.0 618.3,388.0 620.2,397.4 623.0,384.2 625.8,393.6 627.7,376.8 629.6,395.5 632.4,382.4 634.2,373.0 636.1,388.0 638.0,392.7 640.8,380.5 642.7,390.8 644.6,376.8 646.4,388.0 648.3,373.0 650.2,361.8 652.1,350.5 653.9,333.6 655.8,350.5 657.7,363.6 659.0,378.6 661.4,358.0 663.3,339.2 665.2,326.1 667.1,343.0 668.9,354.2 670.8,361.8 672.7,346.8 674.6,335.5 676.4,320.5 678.3,328.0 680.2,320.5 682.1,309.2 683.9,328.0 685.2,341.1 686.8,324.2 688.2,309.2 690.1,324.2 691.4,313.0 692.8,298.0 694.2,296.1 695.8,313.0 697.1,324.2 698.9,286.8 700.2,268.9 701.8,286.8 703.2,313.0 704.6,324.2 705.9,290.5 707.4,269.9 708.9,268.0 710.2,256.8 711.1,247.4 712.2,264.2 713.4,290.5 714.9,320.5 715.8,329.9 717.1,305.5 718.6,299.9 720.1,324.2 721.6,301.8 723.1,326.1 724.6,313.0 726.1,296.1 727.6,324.2 729.1,301.8 730.8,313.0 732.1,344.9 733.6,328.0 735.1,313.0 736.4,301.8 737.8,316.8 739.2,328.0 741.1,313.0 742.6,331.8 744.5,316.8 745.8,339.2 747.7,313.0 749.6,328.0 751.4,301.8 752.8,320.5 754.2,339.2 756.1,346.8 758.0,358.0 760.0,369.2 761.9,346.8 763.8,339.2 765.6,326.1 767.5,339.2 769.4,328.0 771.2,316.8 773.1,329.9 775.0,346.8 776.9,356.1 778.8,339.2 780.6,359.9 782.5,348.6 784.4,337.4 786.2,350.5 788.1,337.4 789.6,335.5 790.9,354.2 792.2,369.2 793.8,380.5 795.6,388.0 797.5,389.9 799.4,382.4 801.2,386.1 803.1,395.5 805.0,393.6 806.9,376.8 808.4,374.9 810.2,380.5 812.1,374.9 814.0,382.4 815.9,376.8 818.1,380.5 820.0,374.9 821.9,376.8 823.8,371.1 825.6,369.2 827.5,373.0 829.4,384.2 831.2,391.8 833.1,395.5 835.0,376.8 836.9,367.4 838.4,380.5 839.7,358.0 841.0,384.2 842.5,389.9 844.4,388.0 846.2,367.4 847.8,386.1 849.6,369.2 851.5,380.5 853.4,363.6 855.2,388.0 857.1,395.5 859.0,373.0 860.9,365.5 862.8,380.5 864.2,346.8 865.8,376.8 867.2,384.2 868.8,358.0 870.6,380.5 872.5,369.2 874.0,348.6 875.5,373.0 877.0,384.2 878.5,354.2 880.0,376.8 881.9,386.1 883.8,380.5 885.6,358.0 887.5,373.0 889.4,367.4 891.2,356.1 893.1,376.8 895.0,380.5 896.9,369.2 898.8,356.1 900.6,369.2 902.5,363.6 904.0,348.6 905.5,376.8 907.2,386.1 909.1,395.5 910.9,384.2 912.8,374.9 914.7,380.5 916.6,373.0 918.4,376.8 920.3,393.6 922.2,391.8 924.1,376.8 925.9,371.1 927.8,358.0 929.7,354.2 931.6,369.2 933.4,352.4 935.3,346.8 937.2,354.2 939.1,350.5 940.9,367.4 942.2,371.1" fill="none" stroke="#4f9bd6" stroke-width="3.7" stroke-linejoin="round" stroke-linecap="round"/>
<line x1="615.40" y1="63.00" x2="615.40" y2="408.00" stroke="#000" stroke-width="1.0" stroke-linecap="butt"/>
<line x1="656.50" y1="63.00" x2="656.50" y2="408.00" stroke="#000" stroke-width="1.0" stroke-linecap="butt"/>
<line x1="697.50" y1="63.00" x2="697.50" y2="408.00" stroke="#000" stroke-width="1.0" stroke-linecap="butt"/>
<line x1="738.50" y1="63.00" x2="738.50" y2="408.00" stroke="#000" stroke-width="1.0" stroke-linecap="butt"/>
<line x1="778.50" y1="63.00" x2="778.50" y2="408.00" stroke="#000" stroke-width="1.0" stroke-linecap="butt"/>
<line x1="819.50" y1="63.00" x2="819.50" y2="408.00" stroke="#000" stroke-width="1.0" stroke-linecap="butt"/>
<line x1="860.50" y1="63.00" x2="860.50" y2="408.00" stroke="#000" stroke-width="1.0" stroke-linecap="butt"/>
<line x1="901.50" y1="63.00" x2="901.50" y2="408.00" stroke="#000" stroke-width="1.0" stroke-linecap="butt"/>
<line x1="942.10" y1="63.00" x2="942.10" y2="408.00" stroke="#000" stroke-width="1.0" stroke-linecap="butt"/>
<text transform="translate(615.0 429.2) scale(1.04 1)" font-size="14.5" text-anchor="middle" fill="#000" font-weight="normal">1055</text>
<text transform="translate(696.8 429.2) scale(1.04 1)" font-size="14.5" text-anchor="middle" fill="#000" font-weight="normal">1655</text>
<text transform="translate(778.5 429.2) scale(1.04 1)" font-size="14.5" text-anchor="middle" fill="#000" font-weight="normal">2255</text>
<text transform="translate(860.3 429.2) scale(1.04 1)" font-size="14.5" text-anchor="middle" fill="#000" font-weight="normal">0455</text>
<text transform="translate(942.1 429.2) scale(1.04 1)" font-size="14.5" text-anchor="middle" fill="#000" font-weight="normal">1055</text>
<line x1="610.40" y1="372.00" x2="615.00" y2="372.00" stroke="#000" stroke-width="0.75" stroke-linecap="butt"/>
<line x1="610.40" y1="317.40" x2="615.00" y2="317.40" stroke="#000" stroke-width="0.75" stroke-linecap="butt"/>
<line x1="610.40" y1="262.80" x2="615.00" y2="262.80" stroke="#000" stroke-width="0.75" stroke-linecap="butt"/>
<line x1="610.40" y1="208.20" x2="615.00" y2="208.20" stroke="#000" stroke-width="0.75" stroke-linecap="butt"/>
<line x1="610.40" y1="153.60" x2="615.00" y2="153.60" stroke="#000" stroke-width="0.75" stroke-linecap="butt"/>
<line x1="610.40" y1="99.00" x2="615.00" y2="99.00" stroke="#000" stroke-width="0.75" stroke-linecap="butt"/>
<line x1="606.30" y1="399.30" x2="942.10" y2="399.30" stroke="#000" stroke-width="1.0" stroke-linecap="butt"/>
<text transform="translate(596.2 403.9) scale(1.04 1)" font-size="14.5" text-anchor="end" fill="#000" font-weight="normal">0</text>
<line x1="606.30" y1="344.70" x2="942.10" y2="344.70" stroke="#000" stroke-width="1.0" stroke-linecap="butt"/>
<text transform="translate(596.2 349.3) scale(1.04 1)" font-size="14.5" text-anchor="end" fill="#000" font-weight="normal">3</text>
<line x1="606.30" y1="290.10" x2="942.10" y2="290.10" stroke="#000" stroke-width="1.0" stroke-linecap="butt"/>
<text transform="translate(596.2 294.7) scale(1.04 1)" font-size="14.5" text-anchor="end" fill="#000" font-weight="normal">6</text>
<line x1="606.30" y1="235.50" x2="942.10" y2="235.50" stroke="#000" stroke-width="1.0" stroke-linecap="butt"/>
<text transform="translate(596.2 240.1) scale(1.04 1)" font-size="14.5" text-anchor="end" fill="#000" font-weight="normal">9</text>
<line x1="606.30" y1="180.90" x2="942.10" y2="180.90" stroke="#000" stroke-width="1.0" stroke-linecap="butt"/>
<text transform="translate(596.2 185.5) scale(1.04 1)" font-size="14.5" text-anchor="end" fill="#000" font-weight="normal">12</text>
<line x1="606.30" y1="126.30" x2="942.10" y2="126.30" stroke="#000" stroke-width="1.0" stroke-linecap="butt"/>
<text transform="translate(596.2 130.9) scale(1.04 1)" font-size="14.5" text-anchor="end" fill="#000" font-weight="normal">15</text>
<line x1="606.30" y1="71.70" x2="942.10" y2="71.70" stroke="#000" stroke-width="1.0" stroke-linecap="butt"/>
<text transform="translate(596.2 76.3) scale(1.04 1)" font-size="14.5" text-anchor="end" fill="#000" font-weight="normal">18</text>
<line x1="942.10" y1="378.82" x2="946.70" y2="378.82" stroke="#000" stroke-width="0.75" stroke-linecap="butt"/>
<line x1="942.10" y1="358.35" x2="946.70" y2="358.35" stroke="#000" stroke-width="0.75" stroke-linecap="butt"/>
<line x1="942.10" y1="337.88" x2="946.70" y2="337.88" stroke="#000" stroke-width="0.75" stroke-linecap="butt"/>
<line x1="942.10" y1="296.93" x2="946.70" y2="296.93" stroke="#000" stroke-width="0.75" stroke-linecap="butt"/>
<line x1="942.10" y1="276.45" x2="946.70" y2="276.45" stroke="#000" stroke-width="0.75" stroke-linecap="butt"/>
<line x1="942.10" y1="255.97" x2="946.70" y2="255.97" stroke="#000" stroke-width="0.75" stroke-linecap="butt"/>
<line x1="942.10" y1="215.03" x2="946.70" y2="215.03" stroke="#000" stroke-width="0.75" stroke-linecap="butt"/>
<line x1="942.10" y1="194.55" x2="946.70" y2="194.55" stroke="#000" stroke-width="0.75" stroke-linecap="butt"/>
<line x1="942.10" y1="174.07" x2="946.70" y2="174.07" stroke="#000" stroke-width="0.75" stroke-linecap="butt"/>
<line x1="942.10" y1="133.12" x2="946.70" y2="133.12" stroke="#000" stroke-width="0.75" stroke-linecap="butt"/>
<line x1="942.10" y1="112.65" x2="946.70" y2="112.65" stroke="#000" stroke-width="0.75" stroke-linecap="butt"/>
<line x1="942.10" y1="92.18" x2="946.70" y2="92.18" stroke="#000" stroke-width="0.75" stroke-linecap="butt"/>
<line x1="942.10" y1="399.30" x2="950.80" y2="399.30" stroke="#000" stroke-width="1.0" stroke-linecap="butt"/>
<text transform="translate(960.6 404.3) scale(1.04 1)" font-size="14.5" text-anchor="start" fill="#000" font-weight="normal">998</text>
<line x1="942.10" y1="317.40" x2="950.80" y2="317.40" stroke="#000" stroke-width="1.0" stroke-linecap="butt"/>
<text transform="translate(960.6 322.4) scale(1.04 1)" font-size="14.5" text-anchor="start" fill="#000" font-weight="normal">1000</text>
<line x1="942.10" y1="235.50" x2="950.80" y2="235.50" stroke="#000" stroke-width="1.0" stroke-linecap="butt"/>
<text transform="translate(960.6 240.5) scale(1.04 1)" font-size="14.5" text-anchor="start" fill="#000" font-weight="normal">1002</text>
<line x1="942.10" y1="153.60" x2="950.80" y2="153.60" stroke="#000" stroke-width="1.0" stroke-linecap="butt"/>
<text transform="translate(960.6 158.6) scale(1.04 1)" font-size="14.5" text-anchor="start" fill="#000" font-weight="normal">1004</text>
<line x1="942.10" y1="71.70" x2="950.80" y2="71.70" stroke="#000" stroke-width="1.0" stroke-linecap="butt"/>
<text transform="translate(960.6 76.7) scale(1.04 1)" font-size="14.5" text-anchor="start" fill="#000" font-weight="normal">1006</text>
<line x1="615.00" y1="70.95" x2="615.00" y2="400.00" stroke="#000" stroke-width="2.1" stroke-linecap="butt"/>
<line x1="614.00" y1="71.70" x2="943.00" y2="71.70" stroke="#000" stroke-width="1.5" stroke-linecap="butt"/>
<line x1="942.10" y1="70.95" x2="942.10" y2="400.00" stroke="#000" stroke-width="1.8" stroke-linecap="butt"/>
<line x1="614.00" y1="399.30" x2="943.00" y2="399.30" stroke="#000" stroke-width="1.4" stroke-linecap="butt"/>
<polyline points="615.0,333.1 617.5,338.8 621.2,340.0 624.4,340.6 626.9,346.2 629.4,348.1 631.9,340.0 634.4,332.5 636.9,322.5 639.4,320.0 641.2,323.1 643.8,318.8 646.9,320.0 650.0,316.2 652.5,310.0 655.0,306.9 658.1,312.5 660.6,316.9 663.8,312.5 666.9,308.8 670.0,306.2 673.8,308.8 677.5,309.4 680.0,316.2 682.5,323.8 686.2,330.0 690.0,333.8 693.8,336.2 697.5,338.1 700.0,340.0 701.9,345.0 704.4,347.5 707.5,343.8 710.0,342.5 712.5,346.2 715.0,352.5 717.5,355.6 720.6,355.0 723.8,351.2 726.2,343.8 728.8,336.2 731.9,328.8 735.0,321.2 738.0,311.2 742.5,304.5 746.2,300.8 750.0,298.2 752.5,290.8 754.5,284.5 757.0,274.5 759.5,262.0 762.0,249.5 764.5,239.5 767.6,229.5 770.8,219.5 773.2,213.2 777.0,208.2 780.1,202.0 782.6,193.2 783.2,187.5 785.1,177.5 787.6,173.8 789.5,163.8 792.6,163.1 795.8,158.8 799.5,155.0 801.4,150.0 804.5,146.2 807.0,141.2 808.2,138.8 810.8,142.5 814.5,142.5 817.0,140.0 818.9,133.8 821.4,126.2 823.9,117.5 825.8,112.5 828.2,109.4 830.8,112.5 834.5,113.8 837.0,118.8 838.2,125.0 840.8,121.2 843.2,126.2 845.1,137.5 848.2,138.8 852.0,142.5 855.8,146.2 859.5,147.5 862.0,151.2 864.5,153.1 868.2,150.0 871.4,145.0 873.2,152.5 875.1,158.8 877.6,156.2 880.4,156.2 882.9,150.0 884.8,146.9 889.1,146.2 891.0,151.2 892.9,155.0 895.4,150.0 898.5,148.8 901.6,146.2 905.4,144.4 907.9,138.8 910.4,136.2 912.9,141.2 916.0,142.5 918.5,138.1 920.4,137.5 923.5,139.4 927.2,141.2 929.1,152.5 932.2,156.2 934.8,162.5 936.6,171.2 938.5,178.8 940.4,187.5 942.0,190.0" fill="none" stroke="#97151a" stroke-width="6.2" stroke-linejoin="round" stroke-linecap="round"/>
<text x="779.5" y="45" font-size="25.35" text-anchor="middle" fill="#000" font-weight="normal">Winds (mph) &amp; Pressure (mb)</text>
<text x="778.5" y="457.5" font-size="21.2" text-anchor="middle" fill="#000" font-weight="normal">Time (UTC)</text>
<text transform="translate(1019 235.5) rotate(-90)" font-size="21.2" text-anchor="middle" fill="#000" font-weight="normal">Station Pressure (Maroon)</text>
<text transform="translate(566.2 235.2) rotate(-90) scale(0.976 1)" font-size="18.8" text-anchor="middle" fill="#000" font-weight="normal">Sonic Wind &amp; Gust (Blue, Black)</text>
<line x1="103.00" y1="860.00" x2="430.00" y2="860.00" stroke="#44b044" stroke-width="13" stroke-linecap="round"/>
<polyline points="102.9,556.2 105.4,555.9 108.2,560.0 111.9,559.1 115.7,556.8 120.4,557.8 126.0,556.8 132.6,555.9 136.3,556.2 139.5,557.8 141.0,565.2 142.5,573.7 145.7,578.4 149.4,581.2 151.3,588.7 153.2,598.1 155.6,602.8 157.5,614.0 158.8,625.2 160.7,640.2 162.0,655.2 163.1,670.2 164.4,681.5 165.8,689.9 169.1,689.0 171.9,692.8 173.8,695.6 177.0,692.8 179.4,699.3 181.3,706.8 182.1,708.1 185.3,705.3 190.0,706.2 193.8,710.0 197.5,713.8 199.8,721.2 202.2,723.1 205.0,719.4 207.8,724.1 211.6,723.1 214.4,727.8 219.1,729.7 220.9,723.1 222.8,719.4 225.6,725.0 228.4,724.1 232.2,728.8 235.0,731.6 238.8,728.8 242.5,725.9 246.2,721.2 249.1,715.6 250.6,707.2 252.8,708.1 255.6,710.0 259.4,703.4 263.1,698.8 266.9,694.1 270.6,692.2 274.4,695.9 277.8,700.6 280.9,694.1 284.7,690.3 287.5,680.0 289.4,670.6 292.2,665.9 295.0,667.8 296.5,657.5 297.4,644.4 299.7,639.7 302.5,641.6 305.3,634.1 309.1,643.4 311.9,636.9 315.6,630.3 316.9,629.0 318.8,615.9 320.1,609.3 322.6,614.0 325.4,609.3 327.2,612.1 329.1,601.8 332.9,600.9 334.8,595.2 338.5,594.3 340.4,588.7 343.2,584.9 346.0,578.4 347.9,584.0 349.8,587.8 353.5,580.2 355.9,571.8 358.2,575.6 361.0,582.1 363.8,585.9 366.6,584.0 368.5,588.7 372.2,585.9 376.9,586.8 380.7,583.1 384.4,584.9 388.2,585.9 391.9,583.1 396.6,583.1 399.4,576.5 402.2,573.7 405.1,572.8 407.9,575.6 411.6,571.8 414.4,569.9 418.2,569.9 421.0,573.7 423.8,578.4 427.6,578.8 430.4,578.4" fill="none" stroke="#8cc84b" stroke-width="5.6" stroke-linejoin="round" stroke-linecap="round"/>
<line x1="103.40" y1="523.70" x2="103.40" y2="868.70" stroke="#000" stroke-width="1.0" stroke-linecap="butt"/>
<line x1="144.50" y1="523.70" x2="144.50" y2="868.70" stroke="#000" stroke-width="1.0" stroke-linecap="butt"/>
<line x1="185.50" y1="523.70" x2="185.50" y2="868.70" stroke="#000" stroke-width="1.0" stroke-linecap="butt"/>
<line x1="226.50" y1="523.70" x2="226.50" y2="868.70" stroke="#000" stroke-width="1.0" stroke-linecap="butt"/>
<line x1="266.50" y1="523.70" x2="266.50" y2="868.70" stroke="#000" stroke-width="1.0" stroke-linecap="butt"/>
<line x1="307.50" y1="523.70" x2="307.50" y2="868.70" stroke="#000" stroke-width="1.0" stroke-linecap="butt"/>
<line x1="348.50" y1="523.70" x2="348.50" y2="868.70" stroke="#000" stroke-width="1.0" stroke-linecap="butt"/>
<line x1="389.50" y1="523.70" x2="389.50" y2="868.70" stroke="#000" stroke-width="1.0" stroke-linecap="butt"/>
<line x1="430.00" y1="523.70" x2="430.00" y2="868.70" stroke="#000" stroke-width="1.0" stroke-linecap="butt"/>
<text transform="translate(103.0 889.9) scale(1.04 1)" font-size="14.5" text-anchor="middle" fill="#000" font-weight="normal">1055</text>
<text transform="translate(184.8 889.9) scale(1.04 1)" font-size="14.5" text-anchor="middle" fill="#000" font-weight="normal">1655</text>
<text transform="translate(266.5 889.9) scale(1.04 1)" font-size="14.5" text-anchor="middle" fill="#000" font-weight="normal">2255</text>
<text transform="translate(348.2 889.9) scale(1.04 1)" font-size="14.5" text-anchor="middle" fill="#000" font-weight="normal">0455</text>
<text transform="translate(430.0 889.9) scale(1.04 1)" font-size="14.5" text-anchor="middle" fill="#000" font-weight="normal">1055</text>
<line x1="98.40" y1="827.24" x2="103.00" y2="827.24" stroke="#000" stroke-width="0.75" stroke-linecap="butt"/>
<line x1="98.40" y1="761.72" x2="103.00" y2="761.72" stroke="#000" stroke-width="0.75" stroke-linecap="butt"/>
<line x1="98.40" y1="696.20" x2="103.00" y2="696.20" stroke="#000" stroke-width="0.75" stroke-linecap="butt"/>
<line x1="98.40" y1="630.68" x2="103.00" y2="630.68" stroke="#000" stroke-width="0.75" stroke-linecap="butt"/>
<line x1="98.40" y1="565.16" x2="103.00" y2="565.16" stroke="#000" stroke-width="0.75" stroke-linecap="butt"/>
<line x1="94.30" y1="860.00" x2="438.70" y2="860.00" stroke="#000" stroke-width="1.0" stroke-linecap="butt"/>
<text transform="translate(84.2 864.6) scale(1.04 1)" font-size="14.5" text-anchor="end" fill="#000" font-weight="normal">0</text>
<line x1="94.30" y1="794.48" x2="438.70" y2="794.48" stroke="#000" stroke-width="1.0" stroke-linecap="butt"/>
<text transform="translate(84.2 799.1) scale(1.04 1)" font-size="14.5" text-anchor="end" fill="#000" font-weight="normal">20</text>
<line x1="94.30" y1="728.96" x2="438.70" y2="728.96" stroke="#000" stroke-width="1.0" stroke-linecap="butt"/>
<text transform="translate(84.2 733.6) scale(1.04 1)" font-size="14.5" text-anchor="end" fill="#000" font-weight="normal">40</text>
<line x1="94.30" y1="663.44" x2="438.70" y2="663.44" stroke="#000" stroke-width="1.0" stroke-linecap="butt"/>
<text transform="translate(84.2 668.0) scale(1.04 1)" font-size="14.5" text-anchor="end" fill="#000" font-weight="normal">60</text>
<line x1="94.30" y1="597.92" x2="438.70" y2="597.92" stroke="#000" stroke-width="1.0" stroke-linecap="butt"/>
<text transform="translate(84.2 602.5) scale(1.04 1)" font-size="14.5" text-anchor="end" fill="#000" font-weight="normal">80</text>
<line x1="94.30" y1="532.40" x2="438.70" y2="532.40" stroke="#000" stroke-width="1.0" stroke-linecap="butt"/>
<text transform="translate(84.2 537.0) scale(1.04 1)" font-size="14.5" text-anchor="end" fill="#000" font-weight="normal">100</text>
<line x1="430.00" y1="843.62" x2="434.60" y2="843.62" stroke="#000" stroke-width="0.75" stroke-linecap="butt"/>
<line x1="430.00" y1="827.24" x2="434.60" y2="827.24" stroke="#000" stroke-width="0.75" stroke-linecap="butt"/>
<line x1="430.00" y1="810.86" x2="434.60" y2="810.86" stroke="#000" stroke-width="0.75" stroke-linecap="butt"/>
<line x1="430.00" y1="778.10" x2="434.60" y2="778.10" stroke="#000" stroke-width="0.75" stroke-linecap="butt"/>
<line x1="430.00" y1="761.72" x2="434.60" y2="761.72" stroke="#000" stroke-width="0.75" stroke-linecap="butt"/>
<line x1="430.00" y1="745.34" x2="434.60" y2="745.34" stroke="#000" stroke-width="0.75" stroke-linecap="butt"/>
<line x1="430.00" y1="712.58" x2="434.60" y2="712.58" stroke="#000" stroke-width="0.75" stroke-linecap="butt"/>
<line x1="430.00" y1="696.20" x2="434.60" y2="696.20" stroke="#000" stroke-width="0.75" stroke-linecap="butt"/>
<line x1="430.00" y1="679.82" x2="434.60" y2="679.82" stroke="#000" stroke-width="0.75" stroke-linecap="butt"/>
<line x1="430.00" y1="647.06" x2="434.60" y2="647.06" stroke="#000" stroke-width="0.75" stroke-linecap="butt"/>
<line x1="430.00" y1="630.68" x2="434.60" y2="630.68" stroke="#000" stroke-width="0.75" stroke-linecap="butt"/>
<line x1="430.00" y1="614.30" x2="434.60" y2="614.30" stroke="#000" stroke-width="0.75" stroke-linecap="butt"/>
<line x1="430.00" y1="581.54" x2="434.60" y2="581.54" stroke="#000" stroke-width="0.75" stroke-linecap="butt"/>
<line x1="430.00" y1="565.16" x2="434.60" y2="565.16" stroke="#000" stroke-width="0.75" stroke-linecap="butt"/>
<line x1="430.00" y1="548.78" x2="434.60" y2="548.78" stroke="#000" stroke-width="0.75" stroke-linecap="butt"/>
<line x1="430.00" y1="860.00" x2="438.70" y2="860.00" stroke="#000" stroke-width="1.0" stroke-linecap="butt"/>
<text transform="translate(448.5 865.0) scale(1.04 1)" font-size="14.5" text-anchor="start" fill="#000" font-weight="normal">0.00</text>
<line x1="430.00" y1="794.48" x2="438.70" y2="794.48" stroke="#000" stroke-width="1.0" stroke-linecap="butt"/>
<text transform="translate(448.5 799.5) scale(1.04 1)" font-size="14.5" text-anchor="start" fill="#000" font-weight="normal">0.02</text>
<line x1="430.00" y1="728.96" x2="438.70" y2="728.96" stroke="#000" stroke-width="1.0" stroke-linecap="butt"/>
<text transform="translate(448.5 734.0) scale(1.04 1)" font-size="14.5" text-anchor="start" fill="#000" font-weight="normal">0.04</text>
<line x1="430.00" y1="663.44" x2="438.70" y2="663.44" stroke="#000" stroke-width="1.0" stroke-linecap="butt"/>
<text transform="translate(448.5 668.4) scale(1.04 1)" font-size="14.5" text-anchor="start" fill="#000" font-weight="normal">0.06</text>
<line x1="430.00" y1="597.92" x2="438.70" y2="597.92" stroke="#000" stroke-width="1.0" stroke-linecap="butt"/>
<text transform="translate(448.5 602.9) scale(1.04 1)" font-size="14.5" text-anchor="start" fill="#000" font-weight="normal">0.08</text>
<line x1="430.00" y1="532.40" x2="438.70" y2="532.40" stroke="#000" stroke-width="1.0" stroke-linecap="butt"/>
<text transform="translate(448.5 537.4) scale(1.04 1)" font-size="14.5" text-anchor="start" fill="#000" font-weight="normal">0.10</text>
<line x1="103.00" y1="531.65" x2="103.00" y2="860.70" stroke="#000" stroke-width="2.1" stroke-linecap="butt"/>
<line x1="102.00" y1="532.40" x2="430.90" y2="532.40" stroke="#000" stroke-width="1.5" stroke-linecap="butt"/>
<line x1="430.00" y1="531.65" x2="430.00" y2="860.70" stroke="#000" stroke-width="1.8" stroke-linecap="butt"/>
<line x1="102.00" y1="860.00" x2="430.90" y2="860.00" stroke="#000" stroke-width="1.4" stroke-linecap="butt"/>
<text x="266.5" y="505.5" font-size="25.35" text-anchor="middle" fill="#000" font-weight="normal">Relative Humidity (%) &amp; Precipitation (in)</text>
<text transform="translate(43.2 696.5) rotate(-90)" font-size="21.1" text-anchor="middle" fill="#000" font-weight="normal">Percent &amp; Precipitation</text>
<circle cx="614.0" cy="564.6" r="3.7" fill="#b3e2f7"/>
<circle cx="615.5" cy="540.5" r="3.7" fill="#b3e2f7"/>
<circle cx="616.5" cy="859.2" r="3.7" fill="#b3e2f7"/>
<circle cx="618.0" cy="851.1" r="3.7" fill="#b3e2f7"/>
<circle cx="619.2" cy="554.6" r="3.7" fill="#b3e2f7"/>
<circle cx="620.1" cy="573.4" r="3.7" fill="#b3e2f7"/>
<circle cx="621.1" cy="577.1" r="3.7" fill="#b3e2f7"/>
<circle cx="622.4" cy="627.1" r="3.7" fill="#b3e2f7"/>
<circle cx="623.4" cy="643.6" r="3.7" fill="#b3e2f7"/>
<circle cx="624.6" cy="706.9" r="3.7" fill="#b3e2f7"/>
<circle cx="625.9" cy="724.1" r="3.7" fill="#b3e2f7"/>
<circle cx="627.0" cy="731.2" r="3.7" fill="#b3e2f7"/>
<circle cx="628.0" cy="767.1" r="3.7" fill="#b3e2f7"/>
<circle cx="629.2" cy="761.0" r="3.7" fill="#b3e2f7"/>
<circle cx="630.5" cy="757.2" r="3.7" fill="#b3e2f7"/>
<circle cx="631.1" cy="717.9" r="3.7" fill="#b3e2f7"/>
<circle cx="632.6" cy="715.0" r="3.7" fill="#b3e2f7"/>
<circle cx="633.6" cy="691.0" r="3.7" fill="#b3e2f7"/>
<circle cx="634.9" cy="704.5" r="3.7" fill="#b3e2f7"/>
<circle cx="637.0" cy="696.0" r="3.7" fill="#b3e2f7"/>
<circle cx="638.2" cy="684.8" r="3.7" fill="#b3e2f7"/>
<circle cx="640.5" cy="689.8" r="3.7" fill="#b3e2f7"/>
<circle cx="642.4" cy="675.0" r="3.7" fill="#b3e2f7"/>
<circle cx="644.2" cy="616.5" r="3.7" fill="#b3e2f7"/>
<circle cx="644.9" cy="649.0" r="3.7" fill="#b3e2f7"/>
<circle cx="646.1" cy="629.6" r="3.7" fill="#b3e2f7"/>
<circle cx="647.0" cy="644.6" r="3.7" fill="#b3e2f7"/>
<circle cx="648.0" cy="610.9" r="3.7" fill="#b3e2f7"/>
<circle cx="648.6" cy="640.9" r="3.7" fill="#b3e2f7"/>
<circle cx="650.5" cy="637.1" r="3.7" fill="#b3e2f7"/>
<circle cx="651.8" cy="625.9" r="3.7" fill="#7bb9e3"/>
<circle cx="653.0" cy="609.6" r="3.7" fill="#7bb9e3"/>
<circle cx="654.2" cy="616.5" r="3.7" fill="#488dc6"/>
<circle cx="658.0" cy="605.2" r="3.7" fill="#7bb9e3"/>
<circle cx="659.2" cy="602.8" r="3.7" fill="#b3e2f7"/>
<circle cx="660.2" cy="636.1" r="3.7" fill="#b3e2f7"/>
<circle cx="661.8" cy="627.8" r="3.7" fill="#7bb9e3"/>
<circle cx="663.0" cy="622.8" r="3.7" fill="#488dc6"/>
<circle cx="664.2" cy="618.4" r="3.7" fill="#488dc6"/>
<circle cx="665.5" cy="602.8" r="3.7" fill="#7bb9e3"/>
<circle cx="668.0" cy="615.2" r="3.7" fill="#7bb9e3"/>
<circle cx="669.2" cy="620.9" r="3.7" fill="#7bb9e3"/>
<circle cx="669.9" cy="582.8" r="3.7" fill="#7bb9e3"/>
<circle cx="671.1" cy="576.5" r="3.7" fill="#7bb9e3"/>
<circle cx="671.8" cy="566.5" r="3.7" fill="#7bb9e3"/>
<circle cx="673.6" cy="564.6" r="3.7" fill="#7bb9e3"/>
<circle cx="673.6" cy="587.8" r="3.7" fill="#7bb9e3"/>
<circle cx="676.1" cy="569.6" r="3.7" fill="#488dc6"/>
<circle cx="676.8" cy="575.2" r="3.7" fill="#488dc6"/>
<circle cx="678.0" cy="548.6" r="3.7" fill="#488dc6"/>
<circle cx="679.2" cy="568.4" r="3.7" fill="#488dc6"/>
<circle cx="680.2" cy="592.8" r="3.7" fill="#488dc6"/>
<circle cx="681.8" cy="611.1" r="3.7" fill="#488dc6"/>
<circle cx="683.0" cy="584.0" r="3.7" fill="#488dc6"/>
<circle cx="686.8" cy="579.6" r="3.7" fill="#488dc6"/>
<circle cx="689.2" cy="565.2" r="3.7" fill="#488dc6"/>
<circle cx="690.5" cy="572.1" r="3.7" fill="#488dc6"/>
<circle cx="691.8" cy="558.6" r="3.7" fill="#488dc6"/>
<circle cx="694.9" cy="575.2" r="3.7" fill="#488dc6"/>
<circle cx="695.5" cy="603.4" r="3.7" fill="#488dc6"/>
<circle cx="696.1" cy="559.0" r="3.7" fill="#488dc6"/>
<circle cx="702.4" cy="587.1" r="3.7" fill="#488dc6"/>
<circle cx="703.0" cy="582.1" r="3.7" fill="#488dc6"/>
<circle cx="704.2" cy="574.6" r="3.7" fill="#488dc6"/>
<circle cx="705.5" cy="590.2" r="3.7" fill="#488dc6"/>
<circle cx="712.4" cy="588.4" r="3.7" fill="#488dc6"/>
<circle cx="713.6" cy="564.6" r="3.7" fill="#488dc6"/>
<circle cx="718.0" cy="584.6" r="3.7" fill="#488dc6"/>
<circle cx="718.6" cy="595.9" r="3.7" fill="#488dc6"/>
<circle cx="719.9" cy="560.2" r="3.7" fill="#488dc6"/>
<circle cx="721.1" cy="591.5" r="3.7" fill="#488dc6"/>
<circle cx="723.0" cy="562.1" r="3.7" fill="#488dc6"/>
<circle cx="723.6" cy="551.9" r="3.7" fill="#488dc6"/>
<circle cx="725.5" cy="564.0" r="3.7" fill="#488dc6"/>
<circle cx="726.8" cy="607.1" r="3.7" fill="#488dc6"/>
<circle cx="727.4" cy="602.1" r="3.7" fill="#488dc6"/>
<circle cx="728.6" cy="597.8" r="3.7" fill="#488dc6"/>
<circle cx="729.9" cy="594.0" r="3.7" fill="#488dc6"/>
<circle cx="731.8" cy="572.1" r="3.7" fill="#488dc6"/>
<circle cx="733.0" cy="550.6" r="3.7" fill="#7bb9e3"/>
<circle cx="733.6" cy="560.9" r="3.7" fill="#488dc6"/>
<circle cx="734.2" cy="589.0" r="3.7" fill="#488dc6"/>
<circle cx="735.5" cy="580.2" r="3.7" fill="#488dc6"/>
<circle cx="739.4" cy="577.1" r="3.7" fill="#488dc6"/>
<circle cx="740.0" cy="584.0" r="3.7" fill="#488dc6"/>
<circle cx="741.9" cy="587.8" r="3.7" fill="#488dc6"/>
<circle cx="743.8" cy="591.5" r="3.7" fill="#488dc6"/>
<circle cx="748.1" cy="580.2" r="3.7" fill="#488dc6"/>
<circle cx="748.8" cy="586.5" r="3.7" fill="#488dc6"/>
<circle cx="751.2" cy="589.0" r="3.7" fill="#488dc6"/>
<circle cx="753.8" cy="594.6" r="3.7" fill="#488dc6"/>
<circle cx="754.6" cy="579.6" r="3.7" fill="#7bb9e3"/>
<circle cx="756.2" cy="587.4" r="3.7" fill="#7bb9e3"/>
<circle cx="756.6" cy="569.4" r="3.7" fill="#7bb9e3"/>
<circle cx="758.4" cy="543.8" r="3.7" fill="#7bb9e3"/>
<circle cx="760.0" cy="845.5" r="3.7" fill="#7bb9e3"/>
<circle cx="761.2" cy="853.0" r="3.7" fill="#7bb9e3"/>
<circle cx="763.1" cy="858.6" r="3.7" fill="#7bb9e3"/>
<circle cx="765.6" cy="851.8" r="3.7" fill="#488dc6"/>
<circle cx="766.9" cy="848.0" r="3.7" fill="#488dc6"/>
<circle cx="769.4" cy="852.4" r="3.7" fill="#488dc6"/>
<circle cx="772.5" cy="851.8" r="3.7" fill="#488dc6"/>
<circle cx="774.8" cy="535.2" r="3.7" fill="#488dc6"/>
<circle cx="775.9" cy="841.8" r="3.7" fill="#7bb9e3"/>
<circle cx="781.2" cy="847.4" r="3.7" fill="#7bb9e3"/>
<circle cx="782.5" cy="859.2" r="3.7" fill="#7bb9e3"/>
<circle cx="783.8" cy="539.6" r="3.7" fill="#7bb9e3"/>
<circle cx="784.8" cy="857.8" r="3.7" fill="#488dc6"/>
<circle cx="787.5" cy="546.2" r="3.7" fill="#7bb9e3"/>
<circle cx="788.5" cy="537.4" r="3.7" fill="#488dc6"/>
<circle cx="789.6" cy="852.1" r="3.7" fill="#488dc6"/>
<circle cx="791.9" cy="536.5" r="3.7" fill="#7bb9e3"/>
<circle cx="793.1" cy="541.5" r="3.7" fill="#b3e2f7"/>
<circle cx="794.1" cy="837.4" r="3.7" fill="#b3e2f7"/>
<circle cx="795.0" cy="818.0" r="3.7" fill="#b3e2f7"/>
<circle cx="796.5" cy="848.0" r="3.7" fill="#b3e2f7"/>
<circle cx="797.5" cy="534.6" r="3.7" fill="#b3e2f7"/>
<circle cx="798.5" cy="797.6" r="3.7" fill="#b3e2f7"/>
<circle cx="799.8" cy="744.5" r="3.7" fill="#b3e2f7"/>
<circle cx="801.0" cy="750.8" r="3.7" fill="#b3e2f7"/>
<circle cx="801.9" cy="707.0" r="3.7" fill="#b3e2f7"/>
<circle cx="803.1" cy="850.9" r="3.7" fill="#b3e2f7"/>
<circle cx="804.4" cy="837.6" r="3.7" fill="#b3e2f7"/>
<circle cx="805.6" cy="579.9" r="3.7" fill="#b3e2f7"/>
<circle cx="806.6" cy="763.5" r="3.7" fill="#b3e2f7"/>
<circle cx="807.8" cy="735.8" r="3.7" fill="#b3e2f7"/>
<circle cx="808.8" cy="718.8" r="3.7" fill="#b3e2f7"/>
<circle cx="810.0" cy="699.8" r="3.7" fill="#b3e2f7"/>
<circle cx="811.6" cy="717.5" r="3.7" fill="#b3e2f7"/>
<circle cx="812.2" cy="692.2" r="3.7" fill="#b3e2f7"/>
<circle cx="813.8" cy="701.0" r="3.7" fill="#b3e2f7"/>
<circle cx="814.6" cy="731.2" r="3.7" fill="#b3e2f7"/>
<circle cx="815.6" cy="704.8" r="3.7" fill="#b3e2f7"/>
<circle cx="819.1" cy="656.6" r="3.7" fill="#b3e2f7"/>
<circle cx="820.2" cy="688.2" r="3.7" fill="#b3e2f7"/>
<circle cx="821.5" cy="706.0" r="3.7" fill="#b3e2f7"/>
<circle cx="822.8" cy="692.2" r="3.7" fill="#b3e2f7"/>
<circle cx="823.8" cy="699.1" r="3.7" fill="#b3e2f7"/>
<circle cx="824.8" cy="722.0" r="3.7" fill="#7bb9e3"/>
<circle cx="826.0" cy="668.9" r="3.7" fill="#b3e2f7"/>
<circle cx="827.5" cy="648.8" r="3.7" fill="#7bb9e3"/>
<circle cx="828.1" cy="750.4" r="3.7" fill="#7bb9e3"/>
<circle cx="829.4" cy="763.5" r="3.7" fill="#b3e2f7"/>
<circle cx="830.6" cy="746.6" r="3.7" fill="#b3e2f7"/>
<circle cx="832.5" cy="767.4" r="3.7" fill="#b3e2f7"/>
<circle cx="833.2" cy="768.0" r="3.7" fill="#b3e2f7"/>
<circle cx="834.0" cy="709.8" r="3.7" fill="#b3e2f7"/>
<circle cx="835.0" cy="731.0" r="3.7" fill="#7bb9e3"/>
<circle cx="836.2" cy="751.9" r="3.7" fill="#b3e2f7"/>
<circle cx="837.2" cy="676.6" r="3.7" fill="#b3e2f7"/>
<circle cx="838.5" cy="691.9" r="3.7" fill="#b3e2f7"/>
<circle cx="839.8" cy="766.8" r="3.7" fill="#7bb9e3"/>
<circle cx="839.8" cy="766.8" r="3.7" fill="#7bb9e3"/>
<circle cx="840.6" cy="721.4" r="3.7" fill="#b3e2f7"/>
<circle cx="841.9" cy="681.9" r="3.7" fill="#b3e2f7"/>
<circle cx="843.1" cy="758.9" r="3.7" fill="#b3e2f7"/>
<circle cx="844.4" cy="768.6" r="3.7" fill="#b3e2f7"/>
<circle cx="844.5" cy="769.2" r="3.7" fill="#b3e2f7"/>
<circle cx="845.4" cy="687.9" r="3.7" fill="#b3e2f7"/>
<circle cx="846.2" cy="762.9" r="3.7" fill="#7bb9e3"/>
<circle cx="846.9" cy="598.4" r="3.7" fill="#b3e2f7"/>
<circle cx="847.5" cy="612.1" r="3.7" fill="#7bb9e3"/>
<circle cx="850.1" cy="776.1" r="3.7" fill="#b3e2f7"/>
<circle cx="851.0" cy="831.5" r="3.7" fill="#b3e2f7"/>
<circle cx="852.0" cy="615.5" r="3.7" fill="#b3e2f7"/>
<circle cx="853.2" cy="746.0" r="3.7" fill="#7bb9e3"/>
<circle cx="855.1" cy="739.1" r="3.7" fill="#b3e2f7"/>
<circle cx="855.4" cy="735.4" r="3.7" fill="#7bb9e3"/>
<circle cx="857.6" cy="756.6" r="3.7" fill="#b3e2f7"/>
<circle cx="858.9" cy="764.2" r="3.7" fill="#b3e2f7"/>
<circle cx="860.1" cy="794.2" r="3.7" fill="#7bb9e3"/>
<circle cx="861.1" cy="571.1" r="3.7" fill="#b3e2f7"/>
<circle cx="862.6" cy="767.4" r="3.7" fill="#b3e2f7"/>
<circle cx="863.9" cy="696.9" r="3.7" fill="#b3e2f7"/>
<circle cx="864.8" cy="725.4" r="3.7" fill="#7bb9e3"/>
<circle cx="865.8" cy="733.5" r="3.7" fill="#b3e2f7"/>
<circle cx="866.8" cy="742.0" r="3.7" fill="#b3e2f7"/>
<circle cx="868.2" cy="762.9" r="3.7" fill="#7bb9e3"/>
<circle cx="868.9" cy="737.9" r="3.7" fill="#b3e2f7"/>
<circle cx="870.4" cy="787.6" r="3.7" fill="#b3e2f7"/>
<circle cx="872.0" cy="755.4" r="3.7" fill="#b3e2f7"/>
<circle cx="873.9" cy="773.6" r="3.7" fill="#7bb9e3"/>
<circle cx="874.5" cy="758.5" r="3.7" fill="#7bb9e3"/>
<circle cx="876.0" cy="736.4" r="3.7" fill="#7bb9e3"/>
<circle cx="877.0" cy="744.1" r="3.7" fill="#b3e2f7"/>
<circle cx="878.2" cy="750.4" r="3.7" fill="#b3e2f7"/>
<circle cx="879.2" cy="768.0" r="3.7" fill="#7bb9e3"/>
<circle cx="880.8" cy="760.4" r="3.7" fill="#7bb9e3"/>
<circle cx="881.4" cy="756.6" r="3.7" fill="#7bb9e3"/>
<circle cx="885.1" cy="745.4" r="3.7" fill="#b3e2f7"/>
<circle cx="885.8" cy="751.0" r="3.7" fill="#b3e2f7"/>
<circle cx="887.0" cy="756.6" r="3.7" fill="#7bb9e3"/>
<circle cx="888.2" cy="762.2" r="3.7" fill="#7bb9e3"/>
<circle cx="888.9" cy="764.2" r="3.7" fill="#7bb9e3"/>
<circle cx="888.9" cy="760.5" r="3.7" fill="#7bb9e3"/>
<circle cx="891.4" cy="769.9" r="3.7" fill="#7bb9e3"/>
<circle cx="894.1" cy="752.2" r="3.7" fill="#7bb9e3"/>
<circle cx="895.1" cy="747.2" r="3.7" fill="#b3e2f7"/>
<circle cx="896.4" cy="741.4" r="3.7" fill="#b3e2f7"/>
<circle cx="897.0" cy="766.1" r="3.7" fill="#7bb9e3"/>
<circle cx="900.1" cy="758.5" r="3.7" fill="#7bb9e3"/>
<circle cx="903.2" cy="765.5" r="3.7" fill="#7bb9e3"/>
<circle cx="905.8" cy="762.9" r="3.7" fill="#7bb9e3"/>
<circle cx="907.0" cy="749.1" r="3.7" fill="#b3e2f7"/>
<circle cx="907.6" cy="742.9" r="3.7" fill="#b3e2f7"/>
<circle cx="908.9" cy="736.6" r="3.7" fill="#b3e2f7"/>
<circle cx="911.4" cy="756.0" r="3.7" fill="#b3e2f7"/>
<circle cx="913.2" cy="746.6" r="3.7" fill="#b3e2f7"/>
<circle cx="914.5" cy="751.0" r="3.7" fill="#b3e2f7"/>
<circle cx="917.0" cy="757.9" r="3.7" fill="#b3e2f7"/>
<circle cx="921.4" cy="753.5" r="3.7" fill="#b3e2f7"/>
<circle cx="922.6" cy="744.1" r="3.7" fill="#b3e2f7"/>
<circle cx="926.4" cy="761.0" r="3.7" fill="#7bb9e3"/>
<circle cx="927.0" cy="770.5" r="3.7" fill="#7bb9e3"/>
<circle cx="932.0" cy="765.5" r="3.7" fill="#7bb9e3"/>
<circle cx="932.6" cy="759.8" r="3.7" fill="#7bb9e3"/>
<circle cx="935.1" cy="769.9" r="3.7" fill="#7bb9e3"/>
<circle cx="937.0" cy="774.2" r="3.7" fill="#7bb9e3"/>
<circle cx="938.5" cy="778.0" r="3.7" fill="#b3e2f7"/>
<circle cx="939.5" cy="773.0" r="3.7" fill="#7bb9e3"/>
<circle cx="941.4" cy="774.2" r="3.7" fill="#7bb9e3"/>
<circle cx="942.6" cy="763.5" r="3.7" fill="#b3e2f7"/>
<circle cx="693.6" cy="587.1" r="3.7" fill="#4aa572"/>
<circle cx="699.2" cy="602.1" r="3.7" fill="#4aa572"/>
<circle cx="699.9" cy="607.8" r="3.7" fill="#4aa572"/>
<circle cx="708.0" cy="605.9" r="3.7" fill="#4aa572"/>
<circle cx="709.9" cy="600.9" r="3.7" fill="#4aa572"/>
<circle cx="711.1" cy="596.5" r="3.7" fill="#78c24b"/>
<circle cx="714.2" cy="572.8" r="3.7" fill="#4aa572"/>
<circle cx="725.8" cy="571.9" r="3.7" fill="#4aa572"/>
<circle cx="750.9" cy="593.0" r="3.7" fill="#4aa572"/>
<line x1="615.40" y1="523.70" x2="615.40" y2="868.70" stroke="#000" stroke-width="1.0" stroke-linecap="butt"/>
<line x1="656.50" y1="523.70" x2="656.50" y2="868.70" stroke="#000" stroke-width="1.0" stroke-linecap="butt"/>
<line x1="697.50" y1="523.70" x2="697.50" y2="868.70" stroke="#000" stroke-width="1.0" stroke-linecap="butt"/>
<line x1="738.50" y1="523.70" x2="738.50" y2="868.70" stroke="#000" stroke-width="1.0" stroke-linecap="butt"/>
<line x1="778.50" y1="523.70" x2="778.50" y2="868.70" stroke="#000" stroke-width="1.0" stroke-linecap="butt"/>
<line x1="819.50" y1="523.70" x2="819.50" y2="868.70" stroke="#000" stroke-width="1.0" stroke-linecap="butt"/>
<line x1="860.50" y1="523.70" x2="860.50" y2="868.70" stroke="#000" stroke-width="1.0" stroke-linecap="butt"/>
<line x1="901.50" y1="523.70" x2="901.50" y2="868.70" stroke="#000" stroke-width="1.0" stroke-linecap="butt"/>
<line x1="942.10" y1="523.70" x2="942.10" y2="868.70" stroke="#000" stroke-width="1.0" stroke-linecap="butt"/>
<text transform="translate(615.0 889.9) scale(1.04 1)" font-size="14.5" text-anchor="middle" fill="#000" font-weight="normal">1055</text>
<text transform="translate(696.8 889.9) scale(1.04 1)" font-size="14.5" text-anchor="middle" fill="#000" font-weight="normal">1655</text>
<text transform="translate(778.5 889.9) scale(1.04 1)" font-size="14.5" text-anchor="middle" fill="#000" font-weight="normal">2255</text>
<text transform="translate(860.3 889.9) scale(1.04 1)" font-size="14.5" text-anchor="middle" fill="#000" font-weight="normal">0455</text>
<text transform="translate(942.1 889.9) scale(1.04 1)" font-size="14.5" text-anchor="middle" fill="#000" font-weight="normal">1055</text>
<line x1="606.30" y1="860.00" x2="950.80" y2="860.00" stroke="#000" stroke-width="1.0" stroke-linecap="butt"/>
<text transform="translate(596.7 864.6) scale(1.04 1)" font-size="14.5" text-anchor="end" fill="#000" font-weight="normal">N</text>
<line x1="606.30" y1="778.10" x2="950.80" y2="778.10" stroke="#000" stroke-width="1.0" stroke-linecap="butt"/>
<text transform="translate(596.7 782.7) scale(1.04 1)" font-size="14.5" text-anchor="end" fill="#000" font-weight="normal">E</text>
<line x1="606.30" y1="696.20" x2="950.80" y2="696.20" stroke="#000" stroke-width="1.0" stroke-linecap="butt"/>
<text transform="translate(596.7 700.8) scale(1.04 1)" font-size="14.5" text-anchor="end" fill="#000" font-weight="normal">S</text>
<line x1="606.30" y1="614.30" x2="950.80" y2="614.30" stroke="#000" stroke-width="1.0" stroke-linecap="butt"/>
<text transform="translate(596.7 618.9) scale(1.04 1)" font-size="14.5" text-anchor="end" fill="#000" font-weight="normal">W</text>
<line x1="606.30" y1="532.40" x2="950.80" y2="532.40" stroke="#000" stroke-width="1.0" stroke-linecap="butt"/>
<text transform="translate(596.7 537.0) scale(1.04 1)" font-size="14.5" text-anchor="end" fill="#000" font-weight="normal">N</text>
<line x1="942.10" y1="860.00" x2="950.80" y2="860.00" stroke="#000" stroke-width="1.0" stroke-linecap="butt"/>
<line x1="942.10" y1="778.10" x2="950.80" y2="778.10" stroke="#000" stroke-width="1.0" stroke-linecap="butt"/>
<line x1="942.10" y1="696.20" x2="950.80" y2="696.20" stroke="#000" stroke-width="1.0" stroke-linecap="butt"/>
<line x1="942.10" y1="614.30" x2="950.80" y2="614.30" stroke="#000" stroke-width="1.0" stroke-linecap="butt"/>
<line x1="942.10" y1="532.40" x2="950.80" y2="532.40" stroke="#000" stroke-width="1.0" stroke-linecap="butt"/>
<line x1="615.00" y1="531.65" x2="615.00" y2="860.70" stroke="#000" stroke-width="2.1" stroke-linecap="butt"/>
<line x1="614.00" y1="532.40" x2="943.00" y2="532.40" stroke="#000" stroke-width="1.5" stroke-linecap="butt"/>
<line x1="942.10" y1="531.65" x2="942.10" y2="860.70" stroke="#000" stroke-width="1.3" stroke-linecap="butt"/>
<line x1="614.00" y1="860.00" x2="943.00" y2="860.00" stroke="#000" stroke-width="1.4" stroke-linecap="butt"/>
<text x="780" y="505.5" font-size="25.35" text-anchor="middle" fill="#000" font-weight="normal">Wind Direction</text>
<text transform="translate(566.5 696.1) rotate(-90) scale(0.974 1)" font-size="18.8" text-anchor="middle" fill="#000" font-weight="normal">Direction (Colored By Speed)</text>
<rect x="953" y="798.55" width="30" height="20.75" fill="#b3e2f7"/>
<text transform="translate(1007.5 814.6) scale(1.03 1)" font-size="16" text-anchor="middle" fill="#000" font-weight="normal">0</text>
<rect x="953" y="778.09" width="30" height="20.75" fill="#7bb9e3"/>
<text transform="translate(1007.5 794.1) scale(1.03 1)" font-size="16" text-anchor="middle" fill="#000" font-weight="normal">2</text>
<rect x="953" y="757.64" width="30" height="20.75" fill="#488dc6"/>
<text transform="translate(1007.5 773.7) scale(1.03 1)" font-size="16" text-anchor="middle" fill="#000" font-weight="normal">4</text>
<rect x="953" y="737.18" width="30" height="20.75" fill="#4aa572"/>
<text transform="translate(1007.5 753.2) scale(1.03 1)" font-size="16" text-anchor="middle" fill="#000" font-weight="normal">6</text>
<rect x="953" y="716.73" width="30" height="20.75" fill="#78c24b"/>
<text transform="translate(1007.5 732.8) scale(1.03 1)" font-size="16" text-anchor="middle" fill="#000" font-weight="normal">8</text>
<rect x="953" y="696.27" width="30" height="20.75" fill="#e8e05a"/>
<text transform="translate(1007.5 712.3) scale(1.03 1)" font-size="16" text-anchor="middle" fill="#000" font-weight="normal">10</text>
<rect x="953" y="675.82" width="30" height="20.75" fill="#f7a843"/>
<text transform="translate(1007.5 691.8) scale(1.03 1)" font-size="16" text-anchor="middle" fill="#000" font-weight="normal">12</text>
<rect x="953" y="655.36" width="30" height="20.75" fill="#f0622a"/>
<text transform="translate(1007.5 671.4) scale(1.03 1)" font-size="16" text-anchor="middle" fill="#000" font-weight="normal">14</text>
<rect x="953" y="634.91" width="30" height="20.75" fill="#dc3228"/>
<text transform="translate(1007.5 650.9) scale(1.03 1)" font-size="16" text-anchor="middle" fill="#000" font-weight="normal">16</text>
<rect x="953" y="614.45" width="30" height="20.75" fill="#b81c24"/>
<text transform="translate(1007.5 630.5) scale(1.03 1)" font-size="16" text-anchor="middle" fill="#000" font-weight="normal">18</text>
<rect x="953" y="594.00" width="30" height="20.75" fill="#92141a"/>
<text transform="translate(1007.5 610.0) scale(1.03 1)" font-size="16" text-anchor="middle" fill="#000" font-weight="normal">20+</text>
<text transform="translate(1007.5 588) scale(1.03 1)" font-size="16" text-anchor="middle" fill="#000" font-weight="normal">mph</text>
<text x="19.3" y="921" font-size="16.95" text-anchor="start" fill="#000" font-weight="normal">Location: Schaghticoke</text>
<text x="19.3" y="942.7" font-size="16.95" text-anchor="start" fill="#000" font-weight="normal">Station elevation: 98.4504 m</text>
<text x="19.3" y="962.5" font-size="16.95" text-anchor="start" fill="#000" font-weight="normal">Station lat/lon: 42.897; -73.6141</text>
<text x="19.3" y="982.5" font-size="16.95" text-anchor="start" fill="#000" font-weight="normal">Figure created on Sun, 2025-11-23, at 10:58 UTC</text>
<text x="19.3" y="1002.3" font-size="16.95" text-anchor="start" fill="#000" font-weight="normal">Most recent data timestamp: 2025/11/23 10:55:00</text>
<text x="1004" y="932.5" font-size="18.3" text-anchor="end" fill="#000" font-weight="normal">Extremes For Past 24 Hours</text>
<text x="1004" y="956" font-size="18.3" text-anchor="end" fill="#000" font-weight="normal">(High/Low/Max Wind/Precipitation/Snow Depth)</text>
<text x="1004" y="981" font-size="18.3" text-anchor="end" fill="#c5202a" font-weight="bold">47.9/24.2/8.3/0/0</text>
<text x="1004" y="1001.7" font-size="16.95" text-anchor="end" fill="#000" font-weight="normal">Max Gust: 17 mph On 11/22 at 1640 UTC</text>
<text x="512" y="1019.3" font-size="14.1" text-anchor="middle" fill="#8c8c8c" font-weight="normal">Created By Nick Bassill Using Data Provided By The NYS Mesonet</text>
</svg></body></html>
